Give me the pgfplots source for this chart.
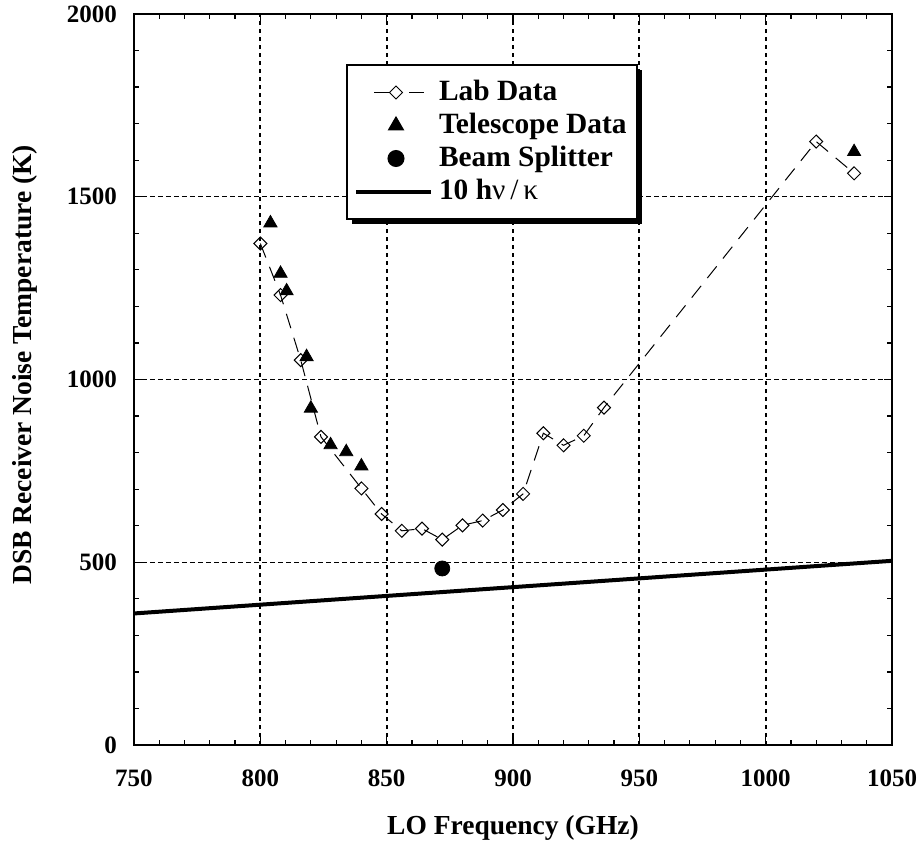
\documentclass[border=0pt]{standalone}
\usepackage{fontspec}
\setmainfont{Liberation Serif}
\usepackage{pgfplots}
\pgfplotsset{compat=1.18}
\usetikzlibrary{shadows}

\makeatletter
\tikzset{no preactions/.code={\let\tikz@preactions\pgfutil@empty}}
\makeatother

\pgfplotsset{
  labimg/.style={legend image code/.code={
    \path[no preactions] (0pt,0pt) (40pt,0pt);
    \draw[no preactions, line width=0.5pt] (10pt,0pt)--(18.5pt,0pt) (27.5pt,0pt)--(35pt,0pt);
    \draw[no preactions, ##1] plot coordinates {(21pt,0pt)};
  }},
  markimg/.style={legend image code/.code={
    \path[no preactions] (0pt,0pt) (40pt,0pt);
    \draw[no preactions, ##1] plot coordinates {(21pt,0pt)};
  }},
  lineimg/.style={legend image code/.code={
    \draw[no preactions, ##1] (1pt,0pt)--(38.5pt,0pt);
  }},
}

\begin{document}
\begin{tikzpicture}
\begin{axis}[
  name=ax,
  scale only axis,
  width=379pt, height=365.5pt,
  xmin=750, xmax=1050, ymin=0, ymax=2000,
  xtick={750,800,...,1050}, ytick={0,500,...,2000},
  minor x tick num=4, minor y tick num=4,
  scaled ticks=false,
  /pgf/number format/1000 sep={},
  /pgf/number format/assume math mode=true,
  ticklabel style={font=\bfseries\fontsize{12.5}{14}\selectfont},
  xticklabel style={yshift=-9pt},
  yticklabel style={xshift=-5pt},
  axis line style={line width=1.3pt},
  tick style={black, line width=0.6pt},
  major tick length=4pt, minor tick length=2.5pt,
  grid=major,
  major x grid style={black, line width=1pt, dash pattern=on 2pt off 2pt},
  major y grid style={black, line width=0.75pt, dash pattern=on 2.5pt off 1.5pt},
  xlabel={LO Frequency (GHz)},
  ylabel={DSB Receiver Noise Temperature (K)},
  label style={font=\bfseries\fontsize{13.75}{16}\selectfont},
  xlabel style={at={(axis description cs:0.5,-0.1135)}, anchor=center},
  ylabel style={at={(axis description cs:-0.1438,0.52)}, anchor=center},
  legend cell align=left,
  legend style={
    at={(axis description cs:0.2797,0.9316)}, anchor=north west,
    draw=black, line width=1pt, fill=white,
    drop shadow={shadow xshift=2.5pt, shadow yshift=-2.5pt, fill=black, opacity=1},
    font=\bfseries\fontsize{14.7}{16}\selectfont,
    inner xsep=3pt, inner ysep=5.5pt,
    nodes={inner sep=2pt, text height=10.5pt, text depth=2pt},
    row sep=0pt,
  },
]
\addplot[black, line width=0.5pt, dash pattern=on 7.5pt off 5pt,
  mark=square, mark size=2.3pt,
  mark options={solid, rotate=45, fill=white, line width=0.5pt},
  labimg] coordinates {
  (800,1372) (808,1231) (816,1053) (824,843) (840,702) (848,632)
  (856,586) (864,592) (872,562) (880,601) (888,614) (896,643)
  (904,687) (912,853) (920,820) (928,846) (936,923) (1020,1651)
  (1035,1564)
};
\addlegendentry{Lab Data}
\addplot[black, only marks, mark=triangle*, mark size=3.8pt, markimg] coordinates {
  (804,1428) (808,1290) (810.4,1242) (818.3,1062) (820,921)
  (827.8,821) (834,802) (840,763) (1035,1623)
};
\addlegendentry{Telescope Data}
\addplot[black, only marks, mark=*, mark size=3.75pt, markimg] coordinates {
  (872,483)
};
\addlegendentry{Beam Splitter}
\addplot[black, line width=2pt, lineimg] coordinates {
  (750,359.9) (1050,503.9)
};
\addlegendentry{10 h{\mdseries ν\,/\,κ}}
\end{axis}
\pgfresetboundingbox
\path[use as bounding box] ([shift={(-67pt,-53pt)}]ax.south west) rectangle ([shift={(393pt,372.5pt)}]ax.south west);
\end{tikzpicture}
\end{document}
